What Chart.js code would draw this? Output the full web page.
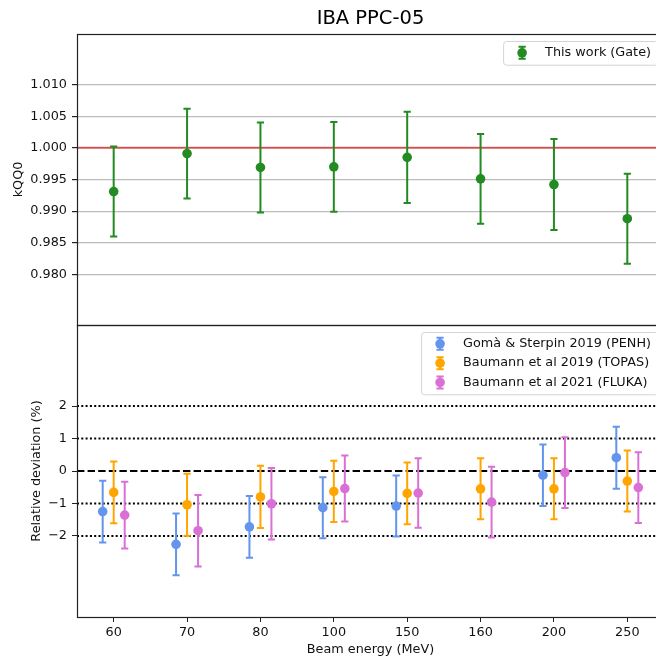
<!DOCTYPE html>
<html>
<head>
<meta charset="utf-8">
<script src="https://cdn.jsdelivr.net/npm/chart.js@4.4.0/dist/chart.umd.min.js"></script>
<style>
html, body { margin: 0; padding: 0; background: #fff; overflow: hidden; }
#wrap { position: relative; width: 656px; height: 660px; overflow: hidden; }
#kqChart { position: absolute; left: 0; top: 0; }
#devChart { position: absolute; left: 0; top: 320px; }
</style>
</head>
<body>
<div id="wrap">
  <canvas id="kqChart" width="700" height="330"></canvas>
  <canvas id="devChart" width="700" height="340"></canvas>
</div>
<script>
// Data
const energies = ['60', '70', '80', '100', '150', '160', '200', '250'];

const gateK   = [0.9931, 0.9991, 0.9969, 0.9970, 0.9985, 0.9951, 0.9942, 0.9888];
const gateErr = [0.0071, 0.0071, 0.0071, 0.0071, 0.0072, 0.0071, 0.0072, 0.0071];
const kTicks  = [0.980, 0.985, 0.990, 0.995, 1.000, 1.005, 1.010];
const kRef    = 1.0;

const gomaDev  = [-1.25, -2.26, -1.72, -1.13, -1.08, null, -0.13, 0.41];
const gomaErr  = [0.95, 0.95, 0.95, 0.94, 0.94, null, 0.95, 0.955];
const topasDev = [-0.66, -1.04, -0.80, -0.63, -0.69, -0.55, -0.55, -0.31];
const topasErr = [0.95, 0.955, 0.96, 0.945, 0.955, 0.94, 0.94, 0.94];
const flukaDev = [-1.36, -1.84, -1.01, -0.54, -0.68, -0.96, -0.05, -0.51];
const flukaErr = [1.03, 1.10, 1.10, 1.015, 1.07, 1.09, 1.09, 1.09];
const devTicks = [-2, -1, 0, 1, 2];
const dottedLevels = [-2, -1, 1, 2];
const dashedLevel = 0;

const FONT = "'DejaVu Sans', sans-serif";
const FS = 12.8;
Chart.defaults.font.family = FONT;
Chart.defaults.font.size = FS;
Chart.defaults.color = '#111';

const xMin = -0.5, xMax = energies.length - 0.5;

function toPoints(vals, shift) {
    return vals.map((v, i) => ({ x: i + shift, y: v }));
}

function hLine(level) {
    return [{ x: xMin, y: level }, { x: xMax, y: level }];
}

// error bars drawn through the scales, just before each dataset's markers
const errorBars = {
    id: 'errorBars',
    beforeDatasetDraw(chart, args) {
        const ds = chart.data.datasets[args.index];
        if (!ds.errors) return;
        const xs = chart.scales.x, ys = chart.scales.y;
        const ctx = chart.ctx;
        ctx.save();
        ctx.strokeStyle = ds.backgroundColor;
        ctx.lineWidth = 2;
        ds.data.forEach((p, i) => {
            if (p.y == null) return;
            const x = xs.getPixelForValue(p.x);
            const y1 = ys.getPixelForValue(p.y + ds.errors[i]);
            const y2 = ys.getPixelForValue(p.y - ds.errors[i]);
            ctx.beginPath();
            ctx.moveTo(x, y1); ctx.lineTo(x, y2);
            ctx.moveTo(x - 3.6, y1); ctx.lineTo(x + 3.6, y1);
            ctx.moveTo(x - 3.6, y2); ctx.lineTo(x + 3.6, y2);
            ctx.stroke();
        });
        ctx.restore();
    }
};

// matplotlib-like box around the axes
const frame = {
    id: 'frame',
    afterDatasetsDraw(chart) {
        const { ctx, chartArea: a } = chart;
        ctx.save();
        ctx.strokeStyle = '#222';
        ctx.lineWidth = 1.2;
        ctx.strokeRect(Math.round(a.left) + 0.5, Math.round(a.top) + 0.5,
            Math.round(a.right - a.left), Math.round(a.bottom - a.top));
        ctx.restore();
    }
};

// legend inside the axes, upper right
const boxLegend = {
    id: 'boxLegend',
    afterDraw(chart) {
        const items = chart.data.datasets.filter(d => d.errors);
        const ctx = chart.ctx, a = chart.chartArea;
        const rowH = 19.3, padL = 6.5, handleW = 25, gap = 10.5, padR = 7;
        ctx.save();
        ctx.font = FS + 'px ' + FONT;
        const textW = Math.max(...items.map(d => ctx.measureText(d.label).width));
        const w = padL + handleW + gap + textW + padR;
        const h = rowH * items.length + 4.4;
        const right = a.right - 6, top = a.top + 7;
        const left = right - w;
        ctx.beginPath();
        ctx.roundRect(left + 0.5, top + 0.5, w, h, 3);
        ctx.fillStyle = 'rgba(255,255,255,0.8)';
        ctx.fill();
        ctx.strokeStyle = '#d4d4d4';
        ctx.lineWidth = 1;
        ctx.stroke();
        items.forEach((d, i) => {
            const cy = top + 2.2 + rowH * (i + 0.5);
            const cx = left + padL + handleW / 2;
            ctx.strokeStyle = d.backgroundColor;
            ctx.lineWidth = 2;
            ctx.beginPath();
            ctx.moveTo(cx, cy - 6); ctx.lineTo(cx, cy + 6);
            ctx.moveTo(cx - 3.6, cy - 6); ctx.lineTo(cx + 3.6, cy - 6);
            ctx.moveTo(cx - 3.6, cy + 6); ctx.lineTo(cx + 3.6, cy + 6);
            ctx.stroke();
            ctx.fillStyle = d.backgroundColor;
            ctx.beginPath();
            ctx.arc(cx, cy, 4.8, 0, Math.PI * 2);
            ctx.fill();
            ctx.fillStyle = '#111';
            ctx.textBaseline = 'middle';
            ctx.textAlign = 'left';
            ctx.fillText(d.label, left + padL + handleW + gap, cy);
        });
        ctx.restore();
    }
};

function fixY(width) {
    return (scale) => {
        scale.width = width;
        scale.paddingTop = 0;
        scale.paddingBottom = 0;
    };
}

function pointSet(label, color, vals, errs, shift) {
    return {
        label: label,
        data: toPoints(vals, shift),
        errors: errs,
        backgroundColor: color,
        borderColor: color,
        borderWidth: 0,
        pointRadius: 4.8,
        pointHoverRadius: 4.8,
        showLine: false,
        order: 0
    };
}

// ---- top panel: kQQ0 ----
new Chart(document.getElementById('kqChart'), {
    type: 'scatter',
    data: {
        datasets: [
            pointSet('This work (Gate)', '#228b22', gateK, gateErr, 0),
            {
                label: 'ref', data: hLine(kRef), showLine: true, pointRadius: 0,
                borderColor: 'rgba(214,39,40,0.72)', borderWidth: 2, order: 5
            }
        ]
    },
    options: {
        responsive: false,
        devicePixelRatio: 1,
        animation: false,
        events: [],
        layout: { padding: { left: 0, right: 36, top: 0, bottom: 5 } },
        plugins: {
            legend: { display: false },
            tooltip: { enabled: false },
            title: {
                display: true, text: 'IBA PPC-05', fullSize: false,
                font: { size: 19.5, weight: 'normal' }, color: '#000',
                padding: { top: 7.3, bottom: 3.3 }
            }
        },
        scales: {
            x: { type: 'linear', min: xMin, max: xMax, display: false },
            y: {
                min: 0.972, max: 1.018,
                afterBuildTicks: (s) => { s.ticks = kTicks.map(v => ({ value: v })); },
                afterFit: fixY(77),
                ticks: { padding: 5, callback: (v) => Number(v).toFixed(3) },
                grid: { color: '#bcbcbc', lineWidth: 1.2, tickColor: '#222', tickLength: 5 },
                border: { display: false },
                title: { display: true, text: 'kQQ0', padding: { top: 11.3, bottom: 0 } }
            }
        }
    },
    plugins: [errorBars, frame, boxLegend]
});

// ---- bottom panel: relative deviation ----
const refSets = dottedLevels.map(l => ({
    label: 'dot', data: hLine(l), showLine: true, pointRadius: 0,
    borderColor: '#000', borderWidth: 2, borderDash: [2, 2.3], order: 5
}));
refSets.push({
    label: 'zero', data: hLine(dashedLevel), showLine: true, pointRadius: 0,
    borderColor: '#000', borderWidth: 2, borderDash: [7.4, 3.2], order: 5
});

new Chart(document.getElementById('devChart'), {
    type: 'scatter',
    data: {
        datasets: [
            pointSet('Gomà & Sterpin 2019 (PENH)', '#6495ed', gomaDev, gomaErr, -0.15),
            pointSet('Baumann et al 2019 (TOPAS)', '#ffa500', topasDev, topasErr, 0),
            pointSet('Baumann et al 2021 (FLUKA)', '#da70d6', flukaDev, flukaErr, 0.15)
        ].concat(refSets)
    },
    options: {
        responsive: false,
        devicePixelRatio: 1,
        animation: false,
        events: [],
        layout: { padding: { left: 0, right: 36, top: 5, bottom: 0 } },
        plugins: {
            legend: { display: false },
            tooltip: { enabled: false }
        },
        scales: {
            x: {
                type: 'linear', min: xMin, max: xMax,
                afterBuildTicks: (s) => { s.ticks = energies.map((e, i) => ({ value: i })); },
                afterFit: (s) => { s.height = 43; s.paddingLeft = 0; s.paddingRight = 0; },
                ticks: { padding: 2.5, maxRotation: 0, autoSkip: false, callback: (v) => energies[v] },
                grid: { drawOnChartArea: false, tickColor: '#222', tickLength: 5 },
                border: { display: false },
                title: { display: true, text: 'Beam energy (MeV)', padding: { top: 0, bottom: 2.5 } }
            },
            y: {
                min: -4.5, max: 4.5,
                afterBuildTicks: (s) => { s.ticks = devTicks.map(v => ({ value: v })); },
                afterFit: fixY(77),
                ticks: { padding: 5, callback: (v) => v < 0 ? '\u2212' + Math.abs(v) : String(v) },
                grid: { drawOnChartArea: false, tickColor: '#222', tickLength: 5 },
                border: { display: false },
                title: { display: true, text: 'Relative deviation (%)', padding: { top: 29.3, bottom: 0 } }
            }
        }
    },
    plugins: [errorBars, frame, boxLegend]
});
</script>
</body>
</html>
